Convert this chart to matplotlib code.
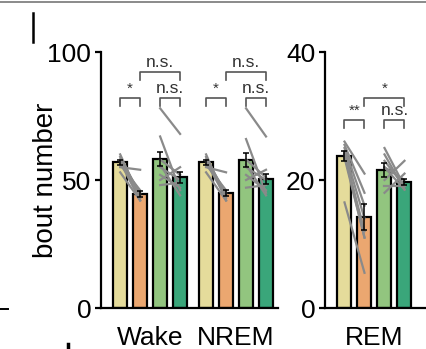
import numpy as np
import matplotlib
matplotlib.use("Agg")
import matplotlib.pyplot as plt
from matplotlib.lines import Line2D

plt.rcParams['font.family'] = ['Liberation Sans', 'DejaVu Sans']

# bar means / sem, order: ctrl-pre, ctrl-post, ko-pre, ko-post
wake_mean = [57.0, 44.5, 58.2, 51.0]
wake_err = [1.0, 1.2, 2.8, 2.0]
nrem_mean = [57.0, 44.8, 57.8, 50.4]
nrem_err = [1.0, 1.2, 2.8, 2.0]
rem_mean = [23.7, 14.2, 21.6, 19.7]
rem_err = [0.8, 2.0, 1.1, 0.5]

# individual animals (paired lines)
wake_a = [60, 58, 57, 56, 55, 58, 53, 59]
wake_b = [43, 44, 42, 46, 54, 45, 42, 44]
wake_c = [78, 67, 58, 55, 52, 50, 56, 48]
wake_d = [68, 46, 52, 50, 47, 55, 44, 49]
nrem_a = [60, 58, 57, 56, 55, 58, 53, 59]
nrem_b = [42, 44, 43, 46, 53, 45, 42, 44]
nrem_c = [78, 66, 58, 55, 52, 50, 56, 47]
nrem_d = [67, 45, 51, 50, 46, 54, 44, 48]
rem_a = [26, 25.5, 25, 24.5, 24, 23.5, 16.5, 24]
rem_b = [21, 18, 16, 14, 12, 11, 5.5, 11]
rem_c = [25, 24, 22, 20, 19, 18, 22, 23]
rem_d = [19, 18.5, 20, 23, 19, 21, 18.5, 19]

colors = ['#e5dc9b', '#eba770', '#92c57f', '#3aa67a']
offs = np.array([-1.5, -0.5, 0.5, 1.5])
width = 0.7
gray = '#8a8a8a'


def draw_group(ax, x0, means, errs, pairs):
    xs = x0 + offs
    ax.bar(xs, means, width, color=colors, edgecolor='black', linewidth=1.6, zorder=2)
    for (i, j), (a, b) in pairs:
        for va, vb in zip(a, b):
            ax.plot([xs[i], xs[j]], [va, vb], color=gray, lw=1.6, zorder=3)
    ax.errorbar(xs, means, yerr=errs, fmt='none', ecolor='black', elinewidth=1.1,
                capsize=2, capthick=1.1, zorder=4)


def bracket(ax, x1, x2, y, h, txt, fs):
    ax.plot([x1, x1, x2, x2], [y - h, y, y, y - h], color='#555555', lw=1.2, clip_on=False)
    ax.text((x1 + x2) / 2, y + h * 0.3, txt, ha='center', va='bottom', fontsize=fs,
            color='#333333')


fig = plt.figure(figsize=(4.27, 3.49), dpi=100)
W, H = 427, 349

ax1 = fig.add_axes([101 / W, 1 - 308 / H, 177 / W, 256 / H])
ax2 = fig.add_axes([325 / W, 1 - 308 / H, 102 / W, 256 / H])

g1, g2 = 0.0, 4.3
draw_group(ax1, g1, wake_mean, wake_err, [((0, 1), (wake_a, wake_b)), ((2, 3), (wake_c, wake_d))])
draw_group(ax1, g2, nrem_mean, nrem_err, [((0, 1), (nrem_a, nrem_b)), ((2, 3), (nrem_c, nrem_d))])
ax1.set_xlim(-2.46, 6.4)
ax1.set_ylim(0, 100)
ax1.set_yticks([0, 50, 100])
ax1.set_xticks([g1, g2])
ax1.set_xticklabels(['Wake', 'NREM'])
ax1.set_ylabel('bout number', fontsize=20, labelpad=-8)

for g in (g1, g2):
    bracket(ax1, g + offs[0], g + offs[1], 82, 3, '*', 11)
    bracket(ax1, g + offs[2], g + offs[3], 82, 3, 'n.s.', 12.5)
    bracket(ax1, g + offs[1], g + offs[3], 92, 3, 'n.s.', 12.5)

g3 = 0.0
draw_group(ax2, g3, rem_mean, rem_err, [((0, 1), (rem_a, rem_b)), ((2, 3), (rem_c, rem_d))])
ax2.set_xlim(-2.475, 2.625)
ax2.set_ylim(0, 40)
ax2.set_yticks([0, 20, 40])
ax2.set_xticks([g3])
ax2.set_xticklabels(['REM'])
bracket(ax2, offs[0], offs[1], 29.4, 1.2, '**', 11)
bracket(ax2, offs[2], offs[3], 29.4, 1.2, 'n.s.', 12.5)
bracket(ax2, offs[1], offs[3], 32.8, 1.2, '*', 11)

for ax in (ax1, ax2):
    ax.spines['top'].set_visible(False)
    ax.spines['right'].set_visible(False)
    for s in ('left', 'bottom'):
        ax.spines[s].set_linewidth(1.6)
    ax.tick_params(axis='y', labelsize=19, length=4, width=1.6, pad=3)
    ax.tick_params(axis='x', labelsize=19, length=0, pad=13)

# bits of neighbouring panels cropped into the picture
fig.add_artist(Line2D([0, 1], [1 - 2 / H, 1 - 2 / H], color='#777777', lw=1.2))
fig.add_artist(Line2D([33 / W, 33 / W], [1 - 13 / H, 1 - 42 / H], color='black', lw=1.8))
fig.add_artist(Line2D([0, 8 / W], [1 - 309 / H, 1 - 309 / H], color='black', lw=1.4))
fig.add_artist(Line2D([68 / W, 68 / W], [1 - 344 / H, 0], color='black', lw=2.5))

fig.savefig('out.png', dpi=100)
